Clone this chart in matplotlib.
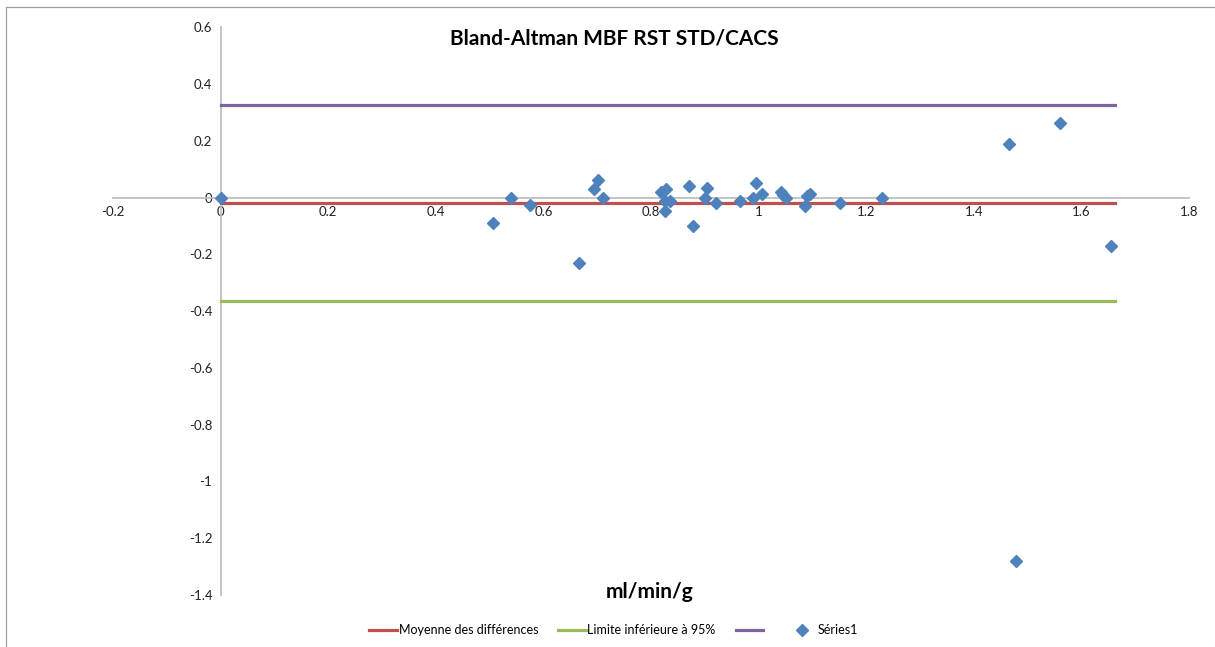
import matplotlib
matplotlib.use("Agg")
import matplotlib.pyplot as plt
from matplotlib.lines import Line2D

plt.rcParams["font.family"] = ["Lato", "DejaVu Sans"]

# Bland-Altman points (mean, difference)
mean_vals = [0.0, 0.506, 0.540, 0.576, 0.666, 0.694, 0.702, 0.710, 0.819, 0.827,
             0.826, 0.835, 0.826, 0.870, 0.879, 0.905, 0.900, 0.921, 0.965, 0.989,
             0.996, 1.006, 1.041, 1.046, 1.051, 1.086, 1.090, 1.095, 1.151, 1.230,
             1.466, 1.561, 1.655, 1.479]
diff_vals = [0.0, -0.089, 0.0, -0.027, -0.229, 0.030, 0.061, 0.0, 0.018, 0.030,
             -0.012, -0.012, -0.049, 0.040, -0.100, 0.032, 0.0, -0.020, -0.012, 0.0,
             0.052, 0.011, 0.020, 0.008, 0.0, -0.029, 0.006, 0.012, -0.020, 0.0,
             0.190, 0.261, -0.170, -1.281]

line_x = [0.0, 1.663]
mean_diff = -0.021
lower_limit = -0.363
upper_limit = 0.327

xticks = [-0.2, 0, 0.2, 0.4, 0.6, 0.8, 1, 1.2, 1.4, 1.6, 1.8]
yticks = [0.6, 0.4, 0.2, 0, -0.2, -0.4, -0.6, -0.8, -1, -1.2, -1.4]

red = "#C0504D"
green = "#9BBB59"
purple = "#8064A2"
blue = "#4F81BD"
gray = "#BFBFBF"

fig = plt.figure(figsize=(12.15, 6.47), dpi=100)
ax = fig.add_axes([0.093, 0.0804, 0.8856, 0.8776])

ax.plot(line_x, [mean_diff, mean_diff], color=red, lw=2.3, zorder=3)
ax.plot(line_x, [lower_limit, lower_limit], color=green, lw=2.3, zorder=3)
ax.plot(line_x, [upper_limit, upper_limit], color=purple, lw=2.3, zorder=3)
ax.plot(mean_vals, diff_vals, ls="none", marker="D", ms=6.5, color=blue, zorder=4)

ax.set_xlim(-0.2, 1.8)
ax.set_ylim(-1.4, 0.6)

# axes cross at origin like Excel
ax.spines["top"].set_visible(False)
ax.spines["right"].set_visible(False)
ax.spines["left"].set_position(("data", 0))
ax.spines["bottom"].set_position(("data", 0))
ax.spines["left"].set_color(gray)
ax.spines["bottom"].set_color(gray)
ax.spines["left"].set_linewidth(1.3)
ax.spines["bottom"].set_linewidth(1.3)

ax.set_xticks(xticks)
ax.set_yticks(yticks)
ax.set_xticklabels([f"{v:g}" for v in xticks])
ax.set_yticklabels([f"{v:g}" for v in yticks])
ax.tick_params(length=0, labelsize=9.5, colors="#222222", pad=6)

fig.text(0.506, 0.94, "Bland-Altman MBF RST STD/CACS", ha="center", va="center",
         fontsize=15, fontweight="bold")
fig.text(0.535, 0.085, "ml/min/g", ha="center", va="center",
         fontsize=15, fontweight="bold")

handles = [
    Line2D([], [], color=red, lw=2.3),
    Line2D([], [], color=green, lw=2.3),
    Line2D([], [], color=purple, lw=2.3),
    Line2D([], [], ls="none", marker="D", ms=6, color=blue),
]
labels = ["Moyenne des différences", "Limite inférieure à 95%", " ", "Séries1"]
fig.legend(handles, labels, loc="center", bbox_to_anchor=(0.505, 0.026), ncol=4,
           frameon=False, fontsize=9, handlelength=2.2, handletextpad=0.15,
           columnspacing=1.6)

# chart area frame (top and left edges visible in the crop)
fig.add_artist(Line2D([0.005, 1.0], [0.989, 0.989], transform=fig.transFigure,
                      color="#A0A0A0", lw=0.9))
fig.add_artist(Line2D([0.005, 0.005], [0.0, 0.989], transform=fig.transFigure,
                      color="#A0A0A0", lw=0.9))

fig.savefig("out.png", dpi=100)
